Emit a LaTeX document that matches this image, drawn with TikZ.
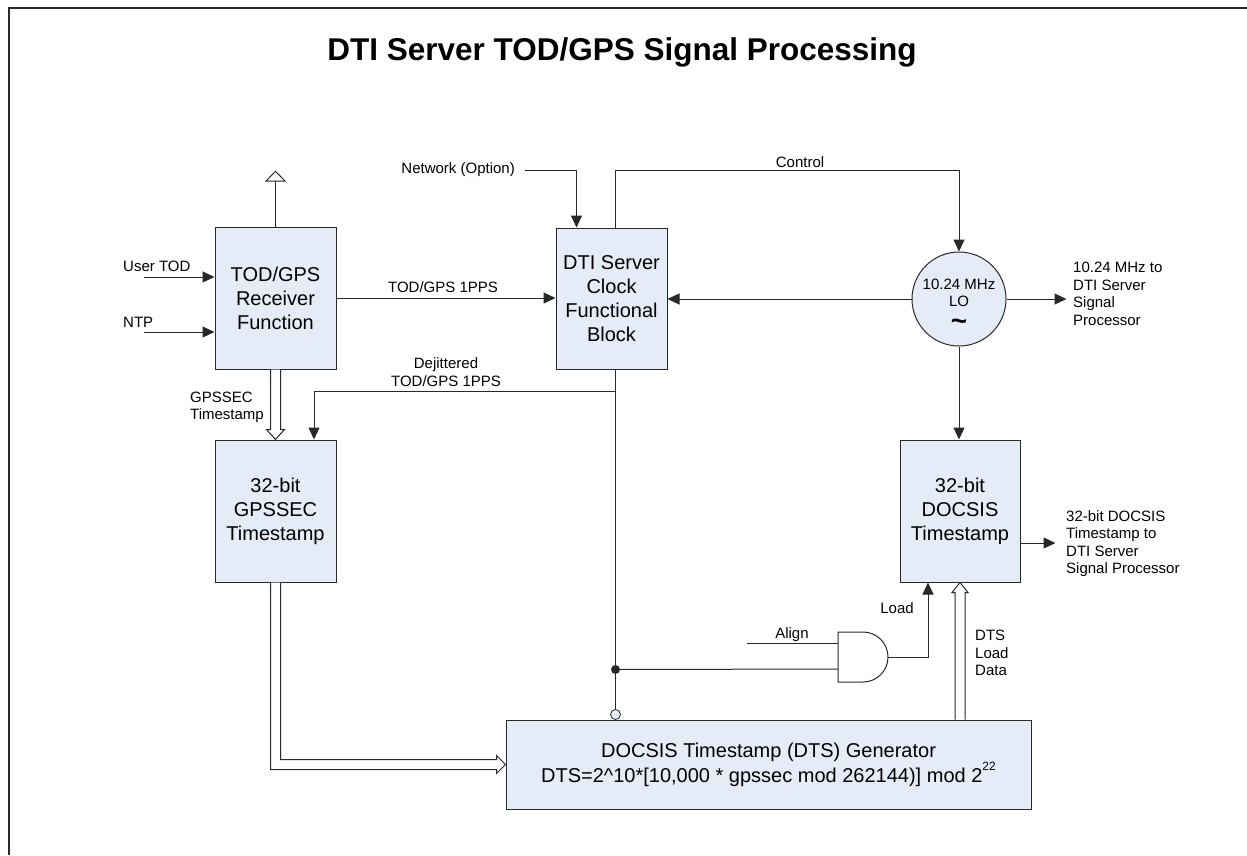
\documentclass[tikz,border=0pt]{standalone}
\usepackage{fontspec}
\setmainfont{Liberation Sans}
\usetikzlibrary{arrows.meta,calc}
\definecolor{boxfill}{RGB}{230,236,247}
\definecolor{ink}{RGB}{40,40,40}
\tikzset{
  blk/.style={draw=ink, fill=boxfill, line width=1pt, inner sep=0pt, align=center, font=\fontsize{20}{24}\selectfont},
  lbl/.style={inner sep=0pt, font=\fontsize{15}{17.5}\selectfont},
  wire/.style={draw=ink, line width=1pt},
  arr/.style={wire, -{Triangle[length=12pt,width=11pt]}},
  busline/.style={wire, fill=white},
}
\begin{document}
\begin{tikzpicture}[x=1pt,y=-1pt]
  \useasboundingbox (0,0) rectangle (1247,855);
  \draw[ink, line width=1.2pt] (9,855) -- (9,8) -- (1247,8);
  \node (title) at (622,52) {\fontsize{31.5}{36}\selectfont\bfseries DTI Server TOD/GPS Signal Processing};

  % blocks
  \node[blk, minimum width=121pt, minimum height=142pt] (tod) at (275.5,298) {TOD/GPS\\Receiver\\Function};
  \node[blk, minimum width=111pt, minimum height=141pt] (dti) at (611.5,298.5) {DTI Server\\Clock\\Functional\\Block};
  \node[blk, circle, minimum size=94pt] (lo) at (959,299) {};
  \node[lbl, align=center] (lotext) at (959,293) {10.24 MHz\\LO};
  \node[inner sep=0pt] (tilde) at (959,325) {\fontsize{28}{28}\selectfont\bfseries\textasciitilde};
  \node[blk, minimum width=121pt, minimum height=142pt] (gpssec) at (275.5,511) {32-bit\\GPSSEC\\Timestamp};
  \node[blk, minimum width=120pt, minimum height=142pt] (docsis) at (960,511) {32-bit\\DOCSIS\\Timestamp};
  \node[blk, minimum width=525pt, minimum height=89pt, font=\fontsize{20}{22}\selectfont] (dts) at (768.5,764.5)
    {DOCSIS Timestamp (DTS) Generator\\DTS=2\textasciicircum 10*[10,000 * gpssec mod 262144)] mod 2\raisebox{1.1ex}{\fontsize{12}{12}\selectfont 22}};

  % labels
  \node[lbl, anchor=west] (utodl) at (123,266) {User TOD};
  \node[lbl, anchor=west] (ntpl) at (123,322) {NTP};
  \node[lbl, anchor=east] (netl) at (515,170) {Network (Option)};
  \node[lbl] (ppsl) at (443,287) {TOD/GPS 1PPS};
  \node[lbl] (ctrll) at (800,162) {Control};
  \node[lbl, align=center] (djl) at (446,372) {Dejittered\\TOD/GPS 1PPS};
  \node[lbl, align=left, anchor=west] (gsl) at (190,407.5) {GPSSEC\\Timestamp};
  \node[lbl, align=left, anchor=west] (lool) at (1073,294) {10.24 MHz to\\DTI Server\\Signal\\Processor};
  \node[lbl, align=left, anchor=west] (dtsol) at (1066,543.5) {32-bit DOCSIS\\Timestamp to\\DTI Server\\Signal Processor};
  \node[lbl] (alignl) at (792,635) {Align};
  \node[lbl] (loadl) at (897,608) {Load};
  \node[lbl, align=left, anchor=west] (ldl) at (975,653) {DTS\\Load\\Data};

  % free ends and gate
  \coordinate (utodin) at (144,277);
  \coordinate (ntpin) at (144,332);
  \coordinate (netin) at (525,170);
  \coordinate (alignin) at (747,643);
  \coordinate (andin1) at (838,643);
  \coordinate (andin2) at (838,669);
  \coordinate (andout) at (888,657);
  \draw[wire, fill=white] (838,632) -- (863,632) arc[start angle=90, end angle=-90, radius=25pt] -- (838,682) -- cycle;
  \node[circle, fill=ink, minimum size=9pt, inner sep=0pt] (jn) at ($(dti.south)+(4,300)$) {};
  \node[circle, draw=ink, fill=boxfill, minimum size=10pt, inner sep=0pt, line width=.8pt] (bubble) at ($(dti.south)+(4,345)$) {};
  \coordinate (dj) at ($(dti.south)+(4,22)$);
  \coordinate (ldbase) at (docsis.south |- dts.north);

  % connectors
  \draw[arr] (utodin) -- (utodin -| tod.west);
  \draw[arr] (ntpin) -- (ntpin -| tod.west);
  \draw[wire, -{Triangle[open, length=11pt, width=21pt]}] (tod.north) -- ++(0,-56);
  \draw[arr] (tod.east) -- (tod.east -| dti.west);
  \draw[arr] (netin) -| ($(dti.north west)+(21,0)$);
  \draw[arr] ($(dti.north)+(4,0)$) -- ++(0,-57) -| (lo.north);
  \draw[arr] (lo.west) -- (lo.west -| dti.east);
  \draw[arr] (lo.east) -- ++(60,0);
  \draw[arr] (lo.south) -- (lo.south |- docsis.north);
  \draw[arr] ($(docsis.east)+(0,32)$) -- ++(35,0);
  \draw[wire] ($(dti.south)+(4,0)$) -- (bubble.north);
  \draw[arr] (dj) -| ($(gpssec.north)+(38.5,0)$);
  \draw[wire] (jn) -- (andin2);
  \draw[wire] (alignin) -- (andin1);
  \draw[arr] (andout) -| ($(docsis.south)+(-32,0)$);

  % buses
  \draw[busline] ($(tod.south)+(-5,0)$) -- ($(gpssec.north)+(-5,-10)$) -- ++(-4,0) -- (gpssec.north)
    -- ++(9,-10) -- ++(-4,0) -- ($(tod.south)+(5,0)$);
  \draw[busline] ($(gpssec.south)+(-5,0)$) |- ($(dts.west)+(-9,5)$) -- ++(0,4) -- (dts.west)
    -- ++(-9,-9) -- ++(0,4) -| ($(gpssec.south)+(5,0)$);
  \draw[busline] ($(ldbase)+(-5,0)$) -- ($(docsis.south)+(-5,10)$) -- ++(-3,0) -- (docsis.south)
    -- ++(8,10) -- ++(-3,0) -- ($(ldbase)+(5,0)$);
\end{tikzpicture}
\end{document}
